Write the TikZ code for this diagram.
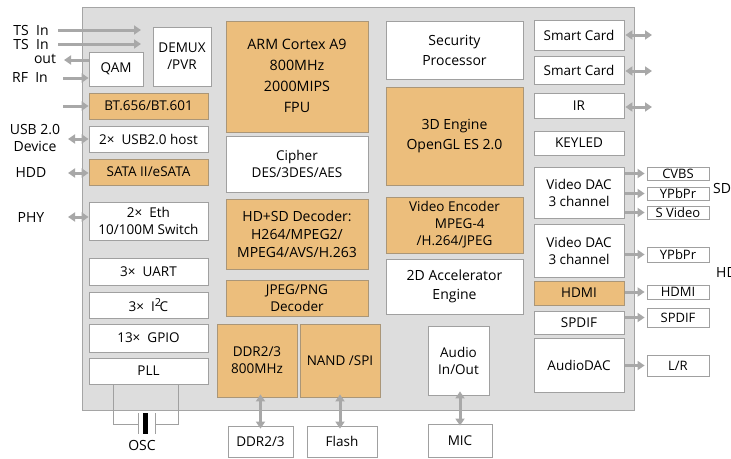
\documentclass[tikz,border=0pt]{standalone}
\usepackage{fontspec}
\setmainfont{Open Sans}
\usetikzlibrary{arrows.meta}
\definecolor{chipfill}{RGB}{221,221,221}
\definecolor{chipedge}{RGB}{165,165,165}
\definecolor{boxedge}{RGB}{160,160,160}
\definecolor{orangefill}{RGB}{236,190,124}
\definecolor{orangeedge}{RGB}{170,150,120}
\definecolor{arrowgray}{RGB}{168,168,168}
\newcommand{\blk}[7]{\node[#6, minimum width={(#4-#2)*1pt}, minimum height={(#5-#3)*1pt}] (#1) at ({(#2+#4)/2},{(#3+#5)/2}) {#7};}
\tikzset{
  wbox/.style={draw=boxedge, fill=white, line width=0.8pt, inner sep=0pt, align=center, font=\fontsize{13.5}{17}\selectfont},
  obox/.style={wbox, fill=orangefill, draw=orangeedge},
  sbox/.style={wbox, font=\fontsize{13}{13}\selectfont},
  lbl/.style={inner sep=0pt, align=center, font=\fontsize{14}{16.5}\selectfont},
  arw/.style={draw=arrowgray, line width=3pt, -{Triangle[length=7pt,width=9pt]}},
  darw/.style={draw=arrowgray, line width=3pt, {Triangle[length=7pt,width=9pt]}-{Triangle[length=7pt,width=9pt]}},
  thin/.style={draw=boxedge, line width=0.8pt}
}
\begin{document}
\begin{tikzpicture}[x=1pt,y=-1pt]
\useasboundingbox (0,0) rectangle (731,458);
% chip
\node[draw=chipedge, fill=chipfill, line width=1pt, inner sep=0pt, minimum width=552pt, minimum height=403pt] (chip) at (358,208.5) {};
% left column
\blk{demux}{153}{27}{211}{86}{wbox}{DEMUX\\/PVR}
\blk{qam}{89}{52}{143}{86}{wbox}{QAM}
\blk{bt}{89}{93}{208}{119}{obox}{BT.656/BT.601}
\blk{usb}{89}{126}{208}{152}{wbox}{2×\ \ USB2.0 host}
\blk{sata}{89}{159}{208}{185}{obox}{SATA II/eSATA}
\blk{eth}{89}{202}{208}{240}{wbox}{2×\ \ Eth\\10/100M Switch}
\blk{uart}{89}{258}{208}{285}{wbox}{3×\ \ UART}
\blk{itwoc}{89}{292}{208}{318}{wbox}{3×\ \ I\raisebox{5pt}{\fontsize{11}{11}\selectfont 2}\kern-1.5pt C}
\blk{gpio}{89}{324}{208}{352}{wbox}{13×\ \ GPIO}
\blk{pll}{89}{358}{208}{384}{wbox}{PLL}
% centre
\blk{arm}{226}{21}{368}{132}{obox, font=\fontsize{14.3}{23}\selectfont}{\raisebox{-2pt}{\begin{tabular}{@{}c@{}}ARM Cortex A9\\[-2pt]800MHz\\[-2pt]2000MIPS\\[-2pt]FPU\end{tabular}}}
\blk{cipher}{226}{136}{368}{192}{wbox}{Cipher\\DES/3DES/AES}
\blk{dec}{226}{199}{368}{269}{obox, font=\fontsize{14}{18}\selectfont}{HD+SD Decoder:\\H264/MPEG2/\\MPEG4/AVS/H.263}
\blk{jpeg}{226}{280}{368}{316}{obox}{JPEG/PNG\\Decoder}
\blk{ddr}{217}{324}{297}{397}{obox}{DDR2/3\\800MHz}
\blk{nand}{300}{324}{380}{397}{obox}{NAND /SPI}
\blk{sec}{386}{21}{523}{79}{wbox, font=\fontsize{14}{20}\selectfont}{Security\\Processor}
\blk{gpu}{386}{87}{523}{185}{obox, font=\fontsize{14}{20}\selectfont}{3D Engine\\OpenGL ES 2.0}
\blk{venc}{386}{197}{523}{253}{obox}{Video Encoder\\\ \ \ MPEG-4\\/H.264/JPEG}
\blk{acc}{386}{259}{523}{314}{wbox, font=\fontsize{14}{19}\selectfont}{2D Accelerator\\Engine}
\blk{audio}{428}{326}{489}{395}{wbox}{Audio\\In/Out}
% bottom externals
\blk{xddr}{228}{426}{293}{457}{wbox}{DDR2/3}
\blk{flash}{307}{426}{377}{457}{wbox}{Flash}
\blk{mic}{428}{424}{492}{457}{wbox}{MIC}
% right column
\blk{scone}{534}{20}{624}{50}{wbox}{Smart Card}
\blk{sctwo}{534}{56}{624}{84}{wbox}{Smart Card}
\blk{ir}{534}{93}{624}{118}{wbox}{IR}
\blk{keyled}{534}{131}{624}{155}{wbox}{KEYLED}
\blk{vdacone}{534}{167}{624}{218}{wbox}{Video DAC\\3 channel}
\blk{vdactwo}{534}{224}{624}{277}{wbox}{Video DAC\\3 channel}
\blk{hdmi}{534}{281}{624}{305}{obox}{HDMI}
\blk{spdif}{534}{311}{624}{334}{wbox}{\raisebox{-2pt}{SPDIF}}
\blk{adac}{534}{338}{624}{392}{wbox}{AudioDAC}
% outputs
\blk{cvbs}{647}{167}{709}{180}{sbox}{\raisebox{-1pt}{CVBS}}
\blk{ypbprone}{647}{187}{709}{200}{sbox}{\raisebox{-1pt}{YPbPr}}
\blk{svideo}{647}{206}{709}{219}{sbox}{\raisebox{-1pt}{S Video}}
\blk{ypbprtwo}{647}{247}{709}{262}{sbox}{YPbPr}
\blk{hdmio}{647}{285}{709}{299}{sbox}{HDMI}
\blk{spdifo}{647}{308}{709}{327}{sbox}{SPDIF}
\blk{lr}{647}{355}{709}{376}{sbox}{L/R}
\node[lbl, anchor=west] (sd) at (713,188) {SD};
\node[lbl, anchor=west] (hd) at (716,272) {HD};
% left labels
\node[lbl] (tsone) at (31,30) {TS\ \ In};
\node[lbl] (tstwo) at (31,44) {TS\ \ In};
\node[lbl] (out) at (45,59) {out};
\node[lbl] (rf) at (30,78) {RF\ \ In};
\node[lbl] (usbdev) at (35,138) {USB 2.0\\Device};
\node[lbl] (hdd) at (31,172) {HDD};
\node[lbl] (phy) at (31,217) {PHY};
\node[lbl] (osc) at (142,445) {OSC};
% left arrows
\coordinate (tsonea) at (58,30); \coordinate (tsoneb) at (141,30);
\coordinate (tstwoa) at (58,44); \coordinate (tstwob) at (141,44);
\draw[arw] (tsonea) -- (tsoneb);
\draw[arw] (tstwoa) -- (tstwob);
\coordinate (outend) at (64,60);
\draw[arw] (qam.west |- outend) -- (outend);
\coordinate (rfstart) at (63,78);
\draw[arw] (rfstart) -- (qam.west |- rfstart);
\coordinate (btstart) at (63,106);
\draw[arw] (btstart) -- (bt.west);
\coordinate (usbend) at (68,139);
\draw[darw] (usbend) -- (usb.west |- usbend);
\coordinate (hddend) at (68,173);
\draw[darw] (hddend) -- (sata.west |- hddend);
\coordinate (phyend) at (68,217);
\draw[darw] (phyend) -- (eth.west |- phyend);
% right double arrows
\coordinate (sconeend) at (652,35);
\coordinate (sctwoend) at (652,71);
\coordinate (irend) at (652,107);
\draw[darw] ([xshift=1pt]scone.east |- sconeend) -- (sconeend);
\draw[darw] ([xshift=1pt]sctwo.east |- sctwoend) -- (sctwoend);
\draw[darw] ([xshift=1pt]ir.east |- irend) -- (irend);
% right output arrows
\draw[arw] ([xshift=1pt]vdacone.east |- cvbs.west) -- ([xshift=-2pt]cvbs.west);
\draw[arw] ([xshift=1pt]vdacone.east |- ypbprone.west) -- ([xshift=-2pt]ypbprone.west);
\draw[arw] ([xshift=1pt]vdacone.east |- svideo.west) -- ([xshift=-2pt]svideo.west);
\draw[arw] ([xshift=1pt]vdactwo.east |- ypbprtwo.west) -- ([xshift=-2pt]ypbprtwo.west);
\draw[arw] ([xshift=1pt]hdmi.east |- hdmio.west) -- ([xshift=-2pt]hdmio.west);
\draw[arw] ([xshift=1pt]spdif.east |- spdifo.west) -- ([xshift=-2pt]spdifo.west);
\draw[arw] ([xshift=1pt]adac.east |- lr.west) -- ([xshift=-2pt]lr.west);
% bottom arrows
\draw[darw] ([yshift=-3pt]xddr.north) -- ([yshift=3pt]xddr.north |- ddr.south);
\draw[darw] ([yshift=-3pt]nand.south |- flash.north) -- ([yshift=3pt]nand.south);
\draw[darw] ([yshift=-2pt]mic.north) -- ([yshift=4pt]mic.north |- audio.south);
% oscillator
\coordinate (plla) at (113,384); \coordinate (pllb) at (178,384);
\coordinate (xa) at (138,424); \coordinate (xb) at (155,424);
\draw[thin] (plla) |- (xa);
\draw[thin] (pllb) |- (xb);
\draw[thin] (138,413) -- (138,434);
\draw[thin] (155,413) -- (155,434);
\fill[black] (143,413) rectangle (148,434);
\end{tikzpicture}
\end{document}
